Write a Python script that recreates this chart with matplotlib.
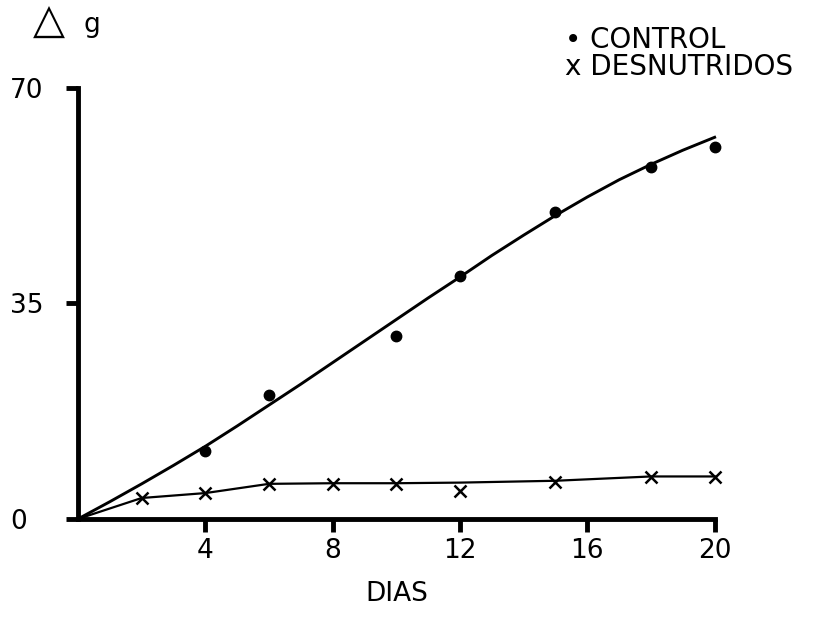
import matplotlib
matplotlib.use("Agg")
import matplotlib.pyplot as plt

# values (days, grams gained)
dias_control = [4, 6, 10, 12, 15, 18, 20]
peso_control = [11.0, 20.1, 29.7, 39.5, 49.8, 57.2, 60.5]

# hand-drawn curve for control
curva_dias = [0, 1, 2, 3, 4, 5, 6, 7, 8, 9, 10, 11, 12, 13, 14, 15, 16, 17, 18, 19, 20]
curva_control = [0, 2.8, 5.7, 8.7, 11.8, 15.1, 18.5, 21.9, 25.4, 28.9, 32.4,
                 35.9, 39.3, 42.8, 46.1, 49.3, 52.3, 55.1, 57.6, 59.9, 62.0]

dias_desnut = [2, 4, 6, 8, 10, 12, 15, 18, 20]
peso_desnut = [3.4, 4.2, 5.7, 5.7, 5.7, 4.5, 6.0, 6.8, 6.8]

# line for desnutridos (passes above the day 12 point)
linea_dias = [0, 2, 4, 6, 8, 10, 12, 15, 18, 20]
linea_desnut = [0, 3.4, 4.2, 5.7, 5.8, 5.8, 5.9, 6.2, 6.9, 6.9]

xticks = [4, 8, 12, 16, 20]
yticks = [0, 35, 70]

fig = plt.figure(figsize=(8.13, 6.29), dpi=100)
ax = fig.add_axes([0.096, 0.175, 0.783, 0.685])

ax.plot(curva_dias, curva_control, color='black', lw=2.1, clip_on=False)
ax.plot(dias_control, peso_control, 'o', color='black', ms=7.5, clip_on=False)
ax.plot(linea_dias, linea_desnut, color='black', lw=1.6, clip_on=False)
ax.plot(dias_desnut, peso_desnut, 'x', color='black', ms=8, mew=1.8, clip_on=False)

ax.set_xlim(0, 20)
ax.set_ylim(0, 70)
for s in ['top', 'right']:
    ax.spines[s].set_visible(False)
for s in ['left', 'bottom']:
    ax.spines[s].set_linewidth(3.5)

ax.set_xticks(xticks)
ax.set_xticklabels([str(v) for v in xticks])
ax.set_yticks(yticks)
ax.set_yticklabels([str(v) for v in yticks])
ax.tick_params(axis='x', direction='out', length=9, width=3.5, pad=5, labelsize=19)
ax.tick_params(axis='y', direction='out', length=9, width=3.5, pad=40, labelsize=19)
for lab in ax.get_yticklabels():
    lab.set_horizontalalignment('left')

ax.set_xlabel('DIAS', fontsize=19, labelpad=12)

fig.text(0.040, 0.966, '△', fontsize=30, ha='left', va='center')
fig.text(0.103, 0.960, 'g', fontsize=19, ha='left', va='center')

fig.text(0.695, 0.937, '• CONTROL', fontsize=20, ha='left', va='center')
fig.text(0.695, 0.893, 'x DESNUTRIDOS', fontsize=20, ha='left', va='center')

fig.savefig('out.png', dpi=100)
